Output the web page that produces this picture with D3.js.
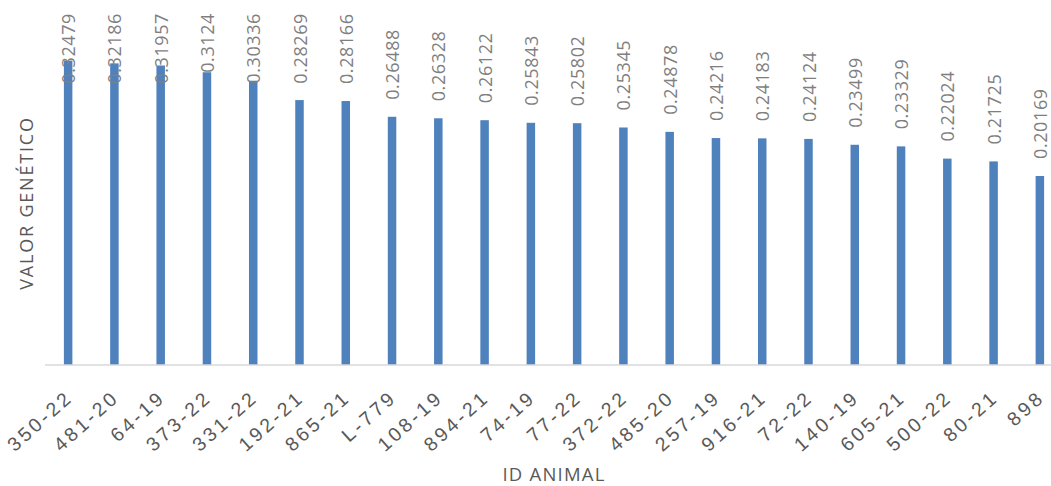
<!DOCTYPE html>
<html>
<head>
<meta charset="utf-8">
<script src="https://cdn.jsdelivr.net/npm/d3@7"></script>
<style>
  html, body { margin: 0; padding: 0; background: #fff; }
  svg { display: block; font-family: "Open Sans", sans-serif; }
</style>
</head>
<body>
<svg id="chart" width="1051" height="486"></svg>
<script>
// Animal IDs, ranked by genetic value
const categories = ["350-22", "481-20", "64-19", "373-22", "331-22", "192-21", "865-21", "L-779",
  "108-19", "894-21", "74-19", "77-22", "372-22", "485-20", "257-19", "916-21", "72-22",
  "140-19", "605-21", "500-22", "80-21", "898"];
const values = [0.32479, 0.32186, 0.31957, 0.3124, 0.30336, 0.28269, 0.28166, 0.26488,
  0.26328, 0.26122, 0.25843, 0.25802, 0.25345, 0.24878, 0.24216, 0.24183, 0.24124,
  0.23499, 0.23329, 0.22024, 0.21725, 0.20169];
const yDomain = [0, 0.35];
const xTitle = "ID ANIMAL";
const yTitle = "VALOR GENÉTICO";

const svg = d3.select("#chart");
const plot = { left: 45, right: 1063, top: 37, bottom: 365 };

const x = d3.scaleBand().domain(categories).range([plot.left, plot.right]).paddingInner(0).paddingOuter(0);
const y = d3.scaleLinear().domain(yDomain).range([plot.bottom, plot.top]);
const barW = 8.5;

// bars
svg.append("g").selectAll("rect").data(values).join("rect")
  .attr("x", (d, i) => x(categories[i]) + x.bandwidth() / 2 - barW / 2)
  .attr("y", d => y(d))
  .attr("width", barW)
  .attr("height", d => y(0) - y(d))
  .attr("fill", "#4f81bd");

// category axis
const xAxis = d3.axisBottom(x).tickSize(0).tickPadding(0);
const gx = svg.append("g").attr("transform", `translate(0,${plot.bottom})`).call(xAxis);
gx.select(".domain").attr("stroke", "#d9d9d9").attr("stroke-width", 1.5).attr("d", `M${plot.left},0H1051`);
gx.selectAll(".tick text")
  .attr("fill", "#595959")
  .style("font-size", "19.5px")
  .style("letter-spacing", "3.2px")
  .attr("text-anchor", "end")
  .attr("dy", null)
  .attr("y", 0)
  .attr("transform", "translate(6,34) rotate(-42)");

// value labels, kept inside the top of the chart
const labelSize = 18, labelTop = 13, labelGap = 17;
const labels = svg.append("g").selectAll("text").data(values).join("text")
  .attr("fill", "#7f7f7f")
  .style("font-size", labelSize + "px")
  .style("letter-spacing", "0.6px")
  .attr("text-anchor", "start")
  .text(d => String(d));
labels.each(function (d, i) {
  const len = this.getComputedTextLength();
  const start = Math.max(labelTop + len, y(d) - labelGap);
  const cx = x(categories[i]) + x.bandwidth() / 2 + 7;
  d3.select(this).attr("transform", `translate(${cx},${start}) rotate(-90)`);
});

// axis titles
svg.append("text")
  .attr("transform", "translate(33,203) rotate(-90)")
  .attr("text-anchor", "middle")
  .attr("fill", "#595959")
  .style("font-size", "18px")
  .style("letter-spacing", "1.8px")
  .text(yTitle);

svg.append("text")
  .attr("x", 554).attr("y", 481)
  .attr("text-anchor", "middle")
  .attr("fill", "#595959")
  .style("font-size", "18.5px")
  .style("letter-spacing", "1.2px")
  .text(xTitle);
</script>
</body>
</html>
